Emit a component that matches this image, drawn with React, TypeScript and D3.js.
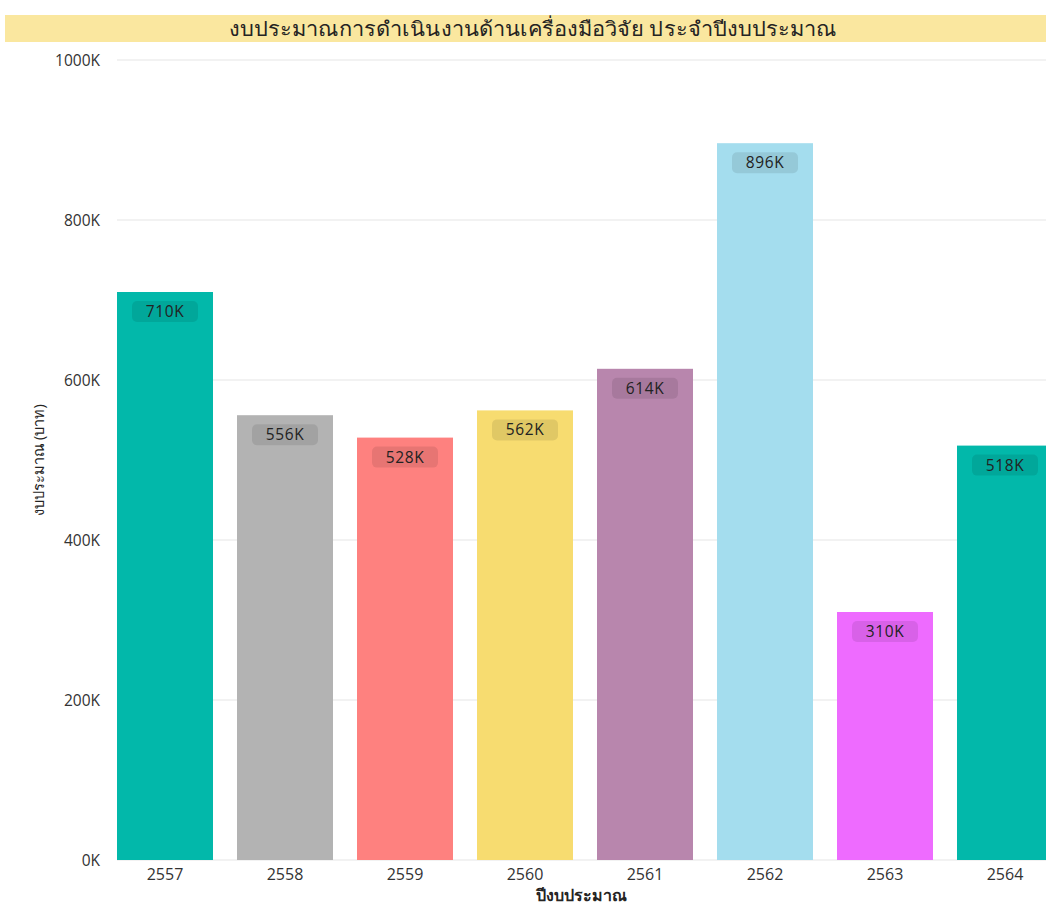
import React from "react";
import * as d3 from "d3";

const years = ["2557", "2558", "2559", "2560", "2561", "2562", "2563", "2564"];
const budgets = [710000, 556000, 528000, 562000, 614000, 896000, 310000, 518000];
const barColors = ["#02B8AA", "#B3B3B3", "#FE817F", "#F7DC70", "#B886AD", "#A4DDEE", "#EE6BFF", "#02B8AA"];
const yTicks = [0, 200000, 400000, 600000, 800000, 1000000];
const title = "งบประมาณการดำเนินงานด้านเครื่องมือวิจัย ประจำปีงบประมาณ";
const xTitle = "ปีงบประมาณ";
const yTitle = "งบประมาณ (บาท)";

const W = 1046;
const H = 909;

export default function App() {
  const x = d3.scaleBand<string>().domain(years).range([105, 1065]).paddingInner(0.2).paddingOuter(0.1);
  const y = d3.scaleLinear().domain([0, 1000000]).range([860, 60]);
  const fmtK = (v: number) => `${Math.round(v / 1000)}K`;
  const font = "'Open Sans', 'Noto Sans', sans-serif";

  return (
    <svg width={W} height={H} style={{ position: "absolute", left: 0, top: 0, background: "#fff" }}>
      <rect x={5} y={15} width={1041} height={27} fill="#FAE79F" />
      <text
        x={533}
        y={36}
        textAnchor="middle"
        fontSize={20}
        fill="#252423"
        fontFamily="'Noto Sans', sans-serif"
        textLength={608}
        lengthAdjust="spacingAndGlyphs"
      >
        {title}
      </text>
      {yTicks.map((t) => (
        <g key={t}>
          <line x1={117} x2={W} y1={y(t)} y2={y(t)} stroke="#EEEEEE" strokeWidth={1.5} />
          <text x={100} y={y(t) + 6} textAnchor="end" fontSize={15.5} fill="#333" fontFamily={font}>
            {fmtK(t)}
          </text>
        </g>
      ))}
      {years.map((yr, i) => {
        const bx = x(yr)!;
        const bw = x.bandwidth();
        const top = y(budgets[i]);
        const cx = bx + bw / 2;
        return (
          <g key={yr}>
            <rect x={bx} y={top} width={bw} height={y(0) - top} fill={barColors[i]} />
            <rect x={cx - 33} y={top + 9} width={66} height={21} rx={5} fill="#000" fillOpacity={0.09} />
            <text x={cx} y={top + 25} textAnchor="middle" fontSize={15.5} fill="#222" fontFamily={font} letterSpacing={0.6}>
              {fmtK(budgets[i])}
            </text>
            <text x={cx} y={880} textAnchor="middle" fontSize={16} fill="#333" fontFamily={font}>
              {yr}
            </text>
          </g>
        );
      })}
      <text x={581} y={901} textAnchor="middle" fontSize={16} fontWeight={600} fill="#252423" fontFamily={font}>
        {xTitle}
      </text>
      <text
        transform={`translate(44, 460) rotate(-90)`}
        textAnchor="middle"
        fontSize={14.5}
        fontWeight={500}
        fill="#252423"
        fontFamily={font}
      >
        {yTitle}
      </text>
    </svg>
  );
}
